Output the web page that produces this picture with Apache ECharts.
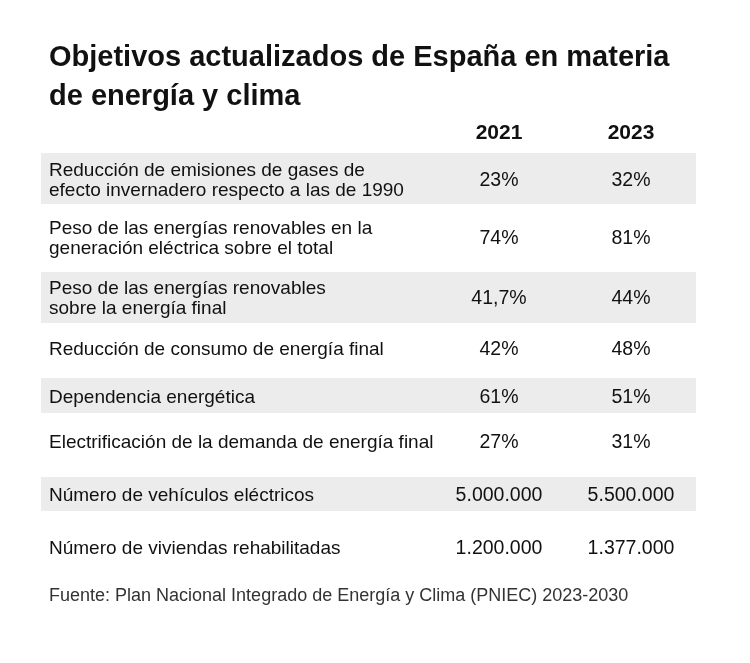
<!DOCTYPE html>
<html>
<head>
<meta charset="utf-8">
<script src="https://cdn.jsdelivr.net/npm/echarts@6/dist/echarts.min.js"></script>
<style>
html,body{margin:0;padding:0;background:#fff;}
#chart{width:750px;height:663px;}
</style>
</head>
<body>
<div id="chart"></div>
<script>
// ---- data ----
const titleText = "Objetivos actualizados de España en materia\nde energía y clima";
const columnHeaders = ["2021", "2023"];
const rowLabels = [
  "Reducción de emisiones de gases de\nefecto invernadero respecto a las de 1990",
  "Peso de las energías renovables en la\ngeneración eléctrica sobre el total",
  "Peso de las energías renovables\nsobre la energía final",
  "Reducción de consumo de energía final",
  "Dependencia energética",
  "Electrificación de la demanda de energía final",
  "Número de vehículos eléctricos",
  "Número de viviendas rehabilitadas"
];
const values2021 = ["23%", "74%", "41,7%", "42%", "61%", "27%", "5.000.000", "1.200.000"];
const values2023 = ["32%", "81%", "44%", "48%", "51%", "31%", "5.500.000", "1.377.000"];
const sourceText = "Fuente: Plan Nacional Integrado de Energía y Clima (PNIEC) 2023-2030";

// ---- layout (not data) ----
const rowTop    = [153, 204, 272, 323, 378, 413, 477, 511];
const rowBottom = [204, 272, 323, 378, 413, 477, 511, 580];
const rowTextY  = [181, 239, 299, 350, 398, 443, 496, 549];
const shaded    = [true, false, true, false, true, false, true, false];
const bandLeft = 41, bandRight = 696, labelX = 49;
const colX = [499, 631];
const headerY = 133;
const FONT = "'Liberation Sans', Arial, sans-serif";

const chart = echarts.init(document.getElementById('chart'), null, {renderer: 'canvas'});

const rowsData = rowLabels.map((l, i) => [i]);

function renderRow(params, api) {
  const i = api.value(0);
  const children = [];
  const p0 = api.coord([bandLeft, rowTop[i]]);
  const p1 = api.coord([bandRight, rowBottom[i]]);
  if (shaded[i]) {
    children.push({
      type: 'rect',
      shape: {x: p0[0], y: p0[1], width: p1[0] - p0[0], height: p1[1] - p0[1]},
      style: {fill: '#ececec'}
    });
  }
  const lp = api.coord([labelX, rowTextY[i]]);
  children.push({
    type: 'text',
    style: {
      text: rowLabels[i], x: lp[0], y: lp[1],
      textAlign: 'left', textVerticalAlign: 'middle',
      fontFamily: FONT, fontSize: 19, lineHeight: 20, fill: '#111'
    }
  });
  [values2021, values2023].forEach((arr, c) => {
    const vp = api.coord([colX[c], rowTextY[i]]);
    children.push({
      type: 'text',
      style: {
        text: arr[i], x: vp[0], y: vp[1],
        textAlign: 'center', textVerticalAlign: 'middle',
        fontFamily: FONT, fontSize: 19.5, fill: '#111'
      }
    });
  });
  return {type: 'group', children};
}

function renderHeader(params, api) {
  const c = api.value(0);
  const p = api.coord([colX[c], headerY]);
  return {
    type: 'text',
    style: {
      text: columnHeaders[c], x: p[0], y: p[1],
      textAlign: 'center', textVerticalAlign: 'middle',
      fontFamily: FONT, fontSize: 21, fontWeight: 'bold', fill: '#111'
    }
  };
}

chart.setOption({
  backgroundColor: '#fff',
  animation: false,
  title: [{
    text: titleText,
    left: 49, top: 38, padding: 0,
    textStyle: {fontFamily: FONT, fontSize: 29, fontWeight: 'bold', color: '#111', lineHeight: 39}
  }, {
    text: sourceText,
    left: 49, top: 586, padding: 0,
    textStyle: {fontFamily: FONT, fontSize: 18, fontWeight: 'normal', color: '#333', lineHeight: 20}
  }],
  grid: {left: 0, right: 0, top: 0, bottom: 0},
  xAxis: {type: 'value', min: 0, max: 750, show: false},
  yAxis: {type: 'value', min: 0, max: 663, inverse: true, show: false},
  series: [{
    type: 'custom',
    renderItem: renderRow,
    data: rowsData,
    silent: true
  }, {
    type: 'custom',
    renderItem: renderHeader,
    data: columnHeaders.map((h, i) => [i]),
    silent: true
  }]
});
</script>
</body>
</html>
